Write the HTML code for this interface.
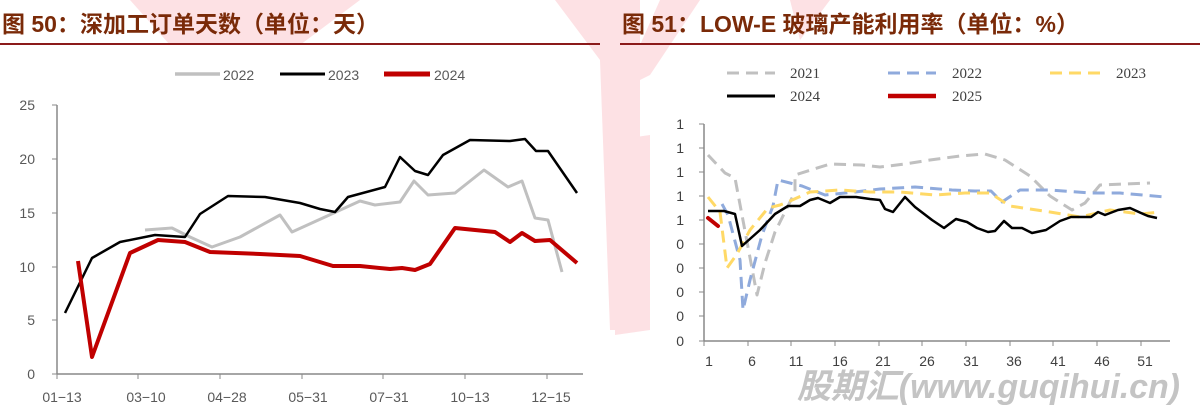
<!DOCTYPE html>
<html><head><meta charset="utf-8"><style>
html,body{margin:0;padding:0;background:#fff;}
body{width:1200px;height:419px;overflow:hidden;position:relative;font-family:"Liberation Sans","Noto Sans CJK SC",sans-serif;}
</style></head><body>
<svg width="1200" height="419" viewBox="0 0 1200 419" xmlns="http://www.w3.org/2000/svg" style="position:absolute;left:0;top:0">
<g fill="#fde1e4">
<polygon points="130,0 360,0 300,45 170,45"/>
<polygon points="300,0 330,0 300,40"/>
<polygon points="555,0 640,0 640,330 610,330 600,60"/>
<polygon points="660,0 700,0 650,75 620,90"/>
<polygon points="790,0 830,0 800,40"/>
<polygon points="615,140 650,135 650,330 615,335"/>
</g>
<text x="2" y="32" font-size="23" font-weight="bold" fill="#7a2a08" font-family="Liberation Sans,Noto Sans CJK SC,sans-serif">图 50：深加工订单天数（单位：天）</text>
<text x="622" y="32" font-size="23" font-weight="bold" fill="#7a2a08" font-family="Liberation Sans,Noto Sans CJK SC,sans-serif">图 51：LOW-E 玻璃产能利用率（单位：%）</text>
<rect x="0" y="43" width="600" height="2" fill="#8b1a1a"/>
<rect x="620" y="43" width="580" height="2" fill="#8b1a1a"/>

<g font-size="14" fill="#595959">
<line x1="57" y1="105" x2="57" y2="374" stroke="#888" stroke-width="1.5"/>
<line x1="57" y1="374" x2="583" y2="374" stroke="#888" stroke-width="1.5"/>
<g stroke="#888"><line x1="52" y1="105" x2="57" y2="105"/><line x1="52" y1="159" x2="57" y2="159"/><line x1="52" y1="213" x2="57" y2="213"/><line x1="52" y1="267" x2="57" y2="267"/><line x1="52" y1="320" x2="57" y2="320"/><line x1="52" y1="374" x2="57" y2="374"/>
<line x1="57" y1="374" x2="57" y2="379"/><line x1="138" y1="374" x2="138" y2="379"/><line x1="220" y1="374" x2="220" y2="379"/><line x1="302" y1="374" x2="302" y2="379"/><line x1="383" y1="374" x2="383" y2="379"/><line x1="465" y1="374" x2="465" y2="379"/><line x1="547" y1="374" x2="547" y2="379"/></g>
<g text-anchor="end"><text x="35" y="110">25</text><text x="35" y="164">20</text><text x="35" y="218">15</text><text x="35" y="272">10</text><text x="35" y="325">5</text><text x="35" y="379">0</text></g>
<g text-anchor="middle"><text x="62" y="402">01−13</text><text x="146" y="402">03−10</text><text x="227" y="402">04−28</text><text x="308" y="402">05−31</text><text x="389" y="402">07−31</text><text x="470" y="402">10−13</text><text x="551" y="402">12−15</text></g>
<line x1="175" y1="74" x2="220" y2="74" stroke="#c0c0c0" stroke-width="3.5"/><text x="223" y="80">2022</text>
<line x1="280" y1="74" x2="325" y2="74" stroke="#000" stroke-width="3"/><text x="328" y="80">2023</text>
<line x1="384" y1="74" x2="430" y2="74" stroke="#c00000" stroke-width="5"/><text x="434" y="80">2024</text>
</g>
<g fill="none" stroke-linejoin="round">
<polyline stroke="#c0c0c0" stroke-width="3" points="145,230 172,228 190,237 212,247 240,237 280,215 292,232 325,217 360,201 375,205 400,202 414,181 428,195 455,193 484,170 508,187 522,181 535,218 548,220 562,272"/>
<polyline stroke="#000" stroke-width="2.5" points="65,313 92,258 120,242 155,235 185,237 200,214 228,196 265,197 300,203 320,209 335,212 348,197 385,187 400,157 415,171 428,175 443,155 470,140 510,141 525,139 536,151 548,151 577,193"/>
<polyline stroke="#c00000" stroke-width="4" points="78,261 92,357 130,253 158,240 185,242 210,252 260,254 300,256 333,266 360,266 390,269 402,268 415,270 430,264 455,228 495,232 510,242 522,233 535,241 550,240 577,263"/>
</g>

<g font-size="14" fill="#404040">
<line x1="704" y1="124" x2="704" y2="341" stroke="#888" stroke-width="1.5"/>
<line x1="704" y1="341" x2="1170" y2="341" stroke="#888" stroke-width="1.5"/>
<g stroke="#888">
<line x1="699" y1="124" x2="704" y2="124"/><line x1="699" y1="148" x2="704" y2="148"/><line x1="699" y1="172" x2="704" y2="172"/><line x1="699" y1="196" x2="704" y2="196"/><line x1="699" y1="220" x2="704" y2="220"/><line x1="699" y1="244" x2="704" y2="244"/><line x1="699" y1="268" x2="704" y2="268"/><line x1="699" y1="292" x2="704" y2="292"/><line x1="699" y1="316" x2="704" y2="316"/><line x1="699" y1="341" x2="704" y2="341"/>
<line x1="704" y1="341" x2="704" y2="346"/><line x1="748" y1="341" x2="748" y2="346"/><line x1="791" y1="341" x2="791" y2="346"/><line x1="835" y1="341" x2="835" y2="346"/><line x1="879" y1="341" x2="879" y2="346"/><line x1="922" y1="341" x2="922" y2="346"/><line x1="966" y1="341" x2="966" y2="346"/><line x1="1010" y1="341" x2="1010" y2="346"/><line x1="1053" y1="341" x2="1053" y2="346"/><line x1="1097" y1="341" x2="1097" y2="346"/><line x1="1141" y1="341" x2="1141" y2="346"/></g>
<g text-anchor="end"><text x="684" y="129">1</text><text x="684" y="153">1</text><text x="684" y="177">1</text><text x="684" y="201">1</text><text x="684" y="225">1</text><text x="684" y="249">0</text><text x="684" y="273">0</text><text x="684" y="297">0</text><text x="684" y="321">0</text><text x="684" y="346">0</text></g>
<g text-anchor="middle"><text x="709" y="366">1</text><text x="752" y="366">6</text><text x="796" y="366">11</text><text x="840" y="366">16</text><text x="883" y="366">21</text><text x="927" y="366">26</text><text x="971" y="366">31</text><text x="1014" y="366">36</text><text x="1058" y="366">41</text><text x="1102" y="366">46</text><text x="1145" y="366">51</text></g>
<g font-family="Liberation Serif,serif" font-size="15">
<line x1="727" y1="73" x2="775" y2="73" stroke="#c0c0c0" stroke-width="3" stroke-dasharray="12,7"/><text x="790" y="78">2021</text>
<line x1="888" y1="73" x2="936" y2="73" stroke="#8faadc" stroke-width="3" stroke-dasharray="12,7"/><text x="952" y="78">2022</text>
<line x1="1050" y1="73" x2="1100" y2="73" stroke="#ffd966" stroke-width="3" stroke-dasharray="12,7"/><text x="1116" y="78">2023</text>
<line x1="727" y1="96" x2="775" y2="96" stroke="#000" stroke-width="3"/><text x="790" y="101">2024</text>
<line x1="888" y1="96" x2="936" y2="96" stroke="#c00000" stroke-width="4.5"/><text x="952" y="101">2025</text>
</g>
</g>
<g fill="none" stroke-linejoin="round" stroke-width="3" stroke-dasharray="12,7">
<polyline stroke="#c0c0c0" points="708,155 725,173 735,178 745,231 757,295 765,263 775,232 795,192 795,175 830,164 862,165 880,167 905,164 930,160 960,156 985,154 1005,160 1030,176 1050,196 1072,210 1085,203 1100,185 1150,183"/>
<polyline stroke="#8faadc" points="722,204 728,215 740,260 743,310 750,280 762,235 773,206 778,180 802,186 825,195 855,192 880,189 915,187 952,190 975,191 991,191 1002,202 1020,190 1050,190 1090,193 1120,193 1165,197"/>
<polyline stroke="#ffd966" points="708,197 720,212 727,268 737,254 750,230 768,208 780,205 790,201 810,192 840,190 870,192 900,192 935,195 965,193 990,193 1010,206 1050,212 1080,217 1110,210 1140,214 1160,212"/>
</g>
<polyline fill="none" stroke="#000" stroke-width="2.5" stroke-linejoin="round" points="708,211 724,211 735,214 742,246 760,230 775,214 788,206 800,206 810,200 818,198 830,203 840,197 856,197 870,199 880,200 885,209 893,212 905,197 915,207 932,220 944,228 956,219 967,222 977,228 988,232 995,231 1004,221 1012,228 1022,228 1032,233 1046,230 1060,221 1071,217 1081,217 1091,217 1098,212 1105,215 1118,210 1130,208 1141,213 1148,216 1157,218"/>
<polyline fill="none" stroke="#c00000" stroke-width="4" stroke-linecap="round" points="708,218 718,226"/>
<text x="797" y="398" font-size="34" font-weight="bold" font-style="italic" fill="#c4c4c4" textLength="383" font-family="Liberation Sans,Noto Sans CJK SC,sans-serif">股期汇(www.guqihui.cn)</text>
</svg>
</body></html>
